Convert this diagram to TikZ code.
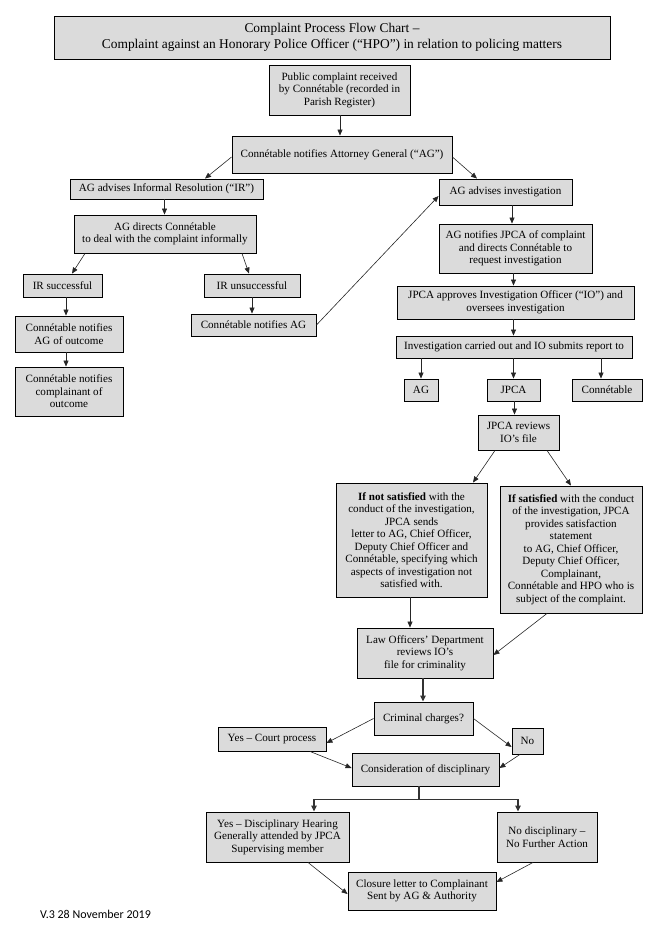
\documentclass[tikz,border=0pt]{standalone}
\usepackage{fontspec}
\setmainfont{Liberation Serif}
\newfontfamily\footfont{Carlito}
\usetikzlibrary{arrows.meta}
\tikzset{
  box/.style={draw=black, line width=0.9pt, fill=gray!28, inner sep=0pt, align=center,
    font=\fontsize{11.1}{12.5}\selectfont},
  arr/.style={draw=black!85, line width=0.6pt, -{Triangle[length=6pt,width=5pt]}},
  arrh/.style={draw=black!80, line width=1.1pt, -{Triangle[length=6pt,width=5.5pt]}},
}
\begin{document}
\begin{tikzpicture}[x=1pt,y=-1pt]
\useasboundingbox (0,0) rectangle (661,935);
% boxes
\node[box, minimum width=556, minimum height=43, font=\fontsize{13.4}{16}\selectfont] (title) at (332,37.5)
  {Complaint Process Flow Chart –\\Complaint against an Honorary Police Officer (“HPO”) in relation to policing matters};
\node[box, minimum width=141, minimum height=50] (pub) at (339.5,90)
  {Public complaint received\\by Connétable (recorded in\\Parish Register)};
\node[box, minimum width=220, minimum height=37] (cnag) at (342,154.5)
  {Connétable notifies Attorney General (“AG”)};
\node[box, minimum width=193, minimum height=20] (agir) at (166.5,189)
  {AG advises Informal Resolution (“IR”)};
\node[box, minimum width=133, minimum height=26] (agi) at (505.5,192)
  {AG advises investigation};
\node[box, minimum width=182, minimum height=38] (agd) at (165,234)
  {AG directs Connétable\\to deal with the complaint informally};
\node[box, minimum width=79, minimum height=23] (irs) at (62.5,285.5) {IR successful};
\node[box, minimum width=96, minimum height=23] (iru) at (252,285.5) {IR unsuccessful};
\node[box, minimum width=108, minimum height=36] (cnao) at (69,334)
  {Connétable notifies\\AG of outcome};
\node[box, minimum width=108, minimum height=49] (cnco) at (69,391.5)
  {Connétable notifies\\complainant of\\outcome};
\node[box, minimum width=125, minimum height=22] (cna) at (253.5,325) {Connétable notifies AG};
\node[box, minimum width=153, minimum height=49] (agn) at (515.5,248.5)
  {AG notifies JPCA of complaint\\and directs Connétable to\\request investigation};
\node[box, minimum width=237, minimum height=33] (jap) at (515.5,302.5)
  {JPCA approves Investigation Officer (“IO”) and\\oversees investigation};
\node[box, minimum width=236, minimum height=22] (inv) at (514,347)
  {Investigation carried out and IO submits report to};
\node[box, minimum width=34, minimum height=22] (ag2) at (421,390) {AG};
\node[box, minimum width=53, minimum height=22] (jpca) at (513.5,390) {JPCA};
\node[box, minimum width=70, minimum height=22] (con) at (607,390) {Connétable};
\node[box, minimum width=81, minimum height=35] (jrev) at (518.5,432.5) {JPCA reviews\\IO’s file};
\node[box, minimum width=151, minimum height=114] (ns) at (411.5,540)
  {\textbf{If not satisfied} with the\\conduct of the investigation,\\JPCA sends\\letter to AG, Chief Officer,\\Deputy Chief Officer and\\Connétable, specifying which\\aspects of investigation not\\satisfied with.};
\node[box, minimum width=142, minimum height=127] (sat) at (571,549.5)
  {\textbf{If satisfied} with the conduct\\of the investigation, JPCA\\provides satisfaction\\statement\\to AG, Chief Officer,\\Deputy Chief Officer,\\Complainant,\\Connétable and HPO who is\\subject of the complaint.};
\node[box, minimum width=136, minimum height=50] (law) at (425,653)
  {Law Officers’ Department\\reviews IO’s\\file for criminality};
\node[box, minimum width=99, minimum height=33] (crim) at (423.5,718.5) {Criminal charges?};
\node[box, minimum width=108, minimum height=24] (yes) at (272,739) {Yes – Court process};
\node[box, minimum width=31, minimum height=26] (no) at (527.5,741) {No};
\node[box, minimum width=147, minimum height=33] (cons) at (425.5,769.5) {Consideration of disciplinary};
\node[box, minimum width=143, minimum height=50] (ydh) at (277.5,837)
  {Yes – Disciplinary Hearing\\Generally attended by JPCA\\Supervising member};
\node[box, minimum width=100, minimum height=50] (nod) at (547,837)
  {No disciplinary –\\No Further Action};
\node[box, minimum width=148, minimum height=38] (clo) at (422,891)
  {Closure letter to Complainant\\Sent by AG \& Authority};
\node[anchor=west, inner sep=0pt, font=\footfont\fontsize{12}{14}\selectfont] (foot) at (40,914)
  {V.3 28 November 2019};
% connectors
\draw[arr] ([xshift=0.5]pub.south) -- ([xshift=0.5]pub.south |- cnag.north);
\draw[arr] ([yshift=-2.5]cnag.west) -- ([xshift=38.5]agir.north);
\draw[arr] ([yshift=-2.5]cnag.east) -- ([xshift=-28.5]agi.north);
\draw[arr] ([xshift=-2]agir.south) -- ([xshift=-2]agir.south |- agd.north);
\draw[arr] ([xshift=-80]agd.south) -- ([xshift=9.5]irs.north);
\draw[arr] ([xshift=77]agd.south) -- ([xshift=-3]iru.north);
\draw[arr] ([xshift=3.5]irs.south) -- ([xshift=3.5]irs.south |- cnao.north);
\draw[arr] ([xshift=-3]cnao.south) -- ([xshift=-3]cnao.north |- cnco.north);
\draw[arr] (iru.south) -- (iru.south |- cna.north);
\draw[arr] (cna.east) -- ([yshift=-4]agi.west);
\draw[arr] ([xshift=6.5]agi.south) -- ([xshift=6.5]agi.south |- agn.north);
\draw[arr] ([xshift=-2]agn.south) -- ([xshift=-2]agn.south |- jap.north);
\draw[arr] ([xshift=-2]jap.south) -- ([xshift=-2]jap.south |- inv.north);
\draw[arr] (ag2.north |- inv.south) -- (ag2.north);
\draw[arr] (jpca.north |- inv.south) -- (jpca.north);
\draw[arr] ([xshift=-6]con.north |- inv.south) -- ([xshift=-6]con.north);
\draw[arr] ([xshift=1]jpca.south) -- ([xshift=1]jpca.south |- jrev.north);
\draw[arr] ([xshift=-23.5]jrev.south) -- ([xshift=61.5]ns.north);
\draw[arr] ([xshift=28.5]jrev.south) -- (sat.north);
\draw[arr] ([xshift=-1.5]ns.south) -- ([xshift=-1.5]ns.south |- law.north);
\draw[arr] ([xshift=-24]sat.south) -- ([yshift=-2]law.east);
\draw[arrh] ([xshift=-2]law.south) -- ([xshift=-2]law.south |- crim.north);
\draw[arr] (crim.west) -- ([yshift=-4]yes.east);
\draw[arr] (crim.east) -- ([yshift=-6]no.west);
\draw[arr] ([xshift=38]yes.south) -- ([yshift=1.5]cons.west);
\draw[arr] ([xshift=-7.5]no.south) -- ([yshift=1.5]cons.east);
\draw[arrh] ([xshift=-6.5]cons.south) -- ++(0,13) -| ([xshift=36.5]ydh.north);
\draw[arrh] ([xshift=-6.5]cons.south) ++(0,13) -| ([xshift=-29]nod.north);
\draw[arr] ([xshift=30.5]ydh.south) -- ([yshift=-3]clo.west);
\draw[arr] ([xshift=-14]nod.south) -- ([yshift=9]clo.east);
\end{tikzpicture}
\end{document}
